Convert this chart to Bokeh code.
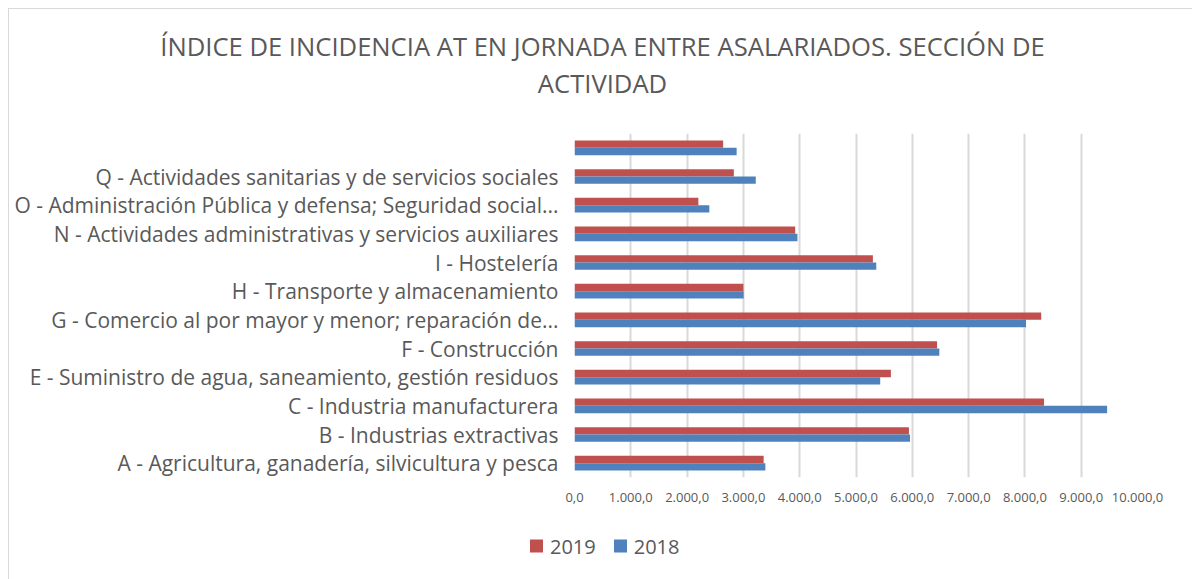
from bokeh.plotting import figure
from bokeh.layouts import column
from bokeh.models import ColumnDataSource, FactorRange, FixedTicker, Range1d, Label, Div
from bokeh.transform import dodge
from bokeh.embed import file_html
from bokeh.resources import INLINE

categories = [
    "A - Agricultura, ganadería, silvicultura y pesca",
    "B - Industrias extractivas",
    "C - Industria manufacturera",
    "E - Suministro de agua, saneamiento, gestión residuos",
    "F - Construcción",
    "G - Comercio al por mayor y menor; reparación de...",
    "H - Transporte y almacenamiento",
    "I - Hostelería",
    "N - Actividades administrativas y servicios auxiliares",
    "O - Administración Pública y defensa; Seguridad social...",
    "Q - Actividades sanitarias y de servicios sociales",
    " ",
]
values_2019 = [3360, 5940, 8340, 5620, 6440, 8290, 3000, 5300, 3920, 2200, 2830, 2640]
values_2018 = [3390, 5960, 9460, 5430, 6480, 8020, 3005, 5360, 3960, 2395, 3220, 2880]
series_names = ["2019", "2018"]
series_colors = ["#C0504D", "#4F81BD"]
tick_values = [0, 1000, 2000, 3000, 4000, 5000, 6000, 7000, 8000, 9000, 10000]
tick_labels = ["0,0", "1.000,0", "2.000,0", "3.000,0", "4.000,0", "5.000,0",
               "6.000,0", "7.000,0", "8.000,0", "9.000,0", "10.000,0"]
title_text = "ÍNDICE DE INCIDENCIA AT EN JORNADA ENTRE ASALARIADOS. SECCIÓN DE\nACTIVIDAD"

FONT = "Open Sans"
GREY = "#595959"

src = ColumnDataSource(dict(cat=categories, v2019=values_2019, v2018=values_2018))

p = figure(
    frame_width=563, frame_height=344,
    y_range=FactorRange(*categories, range_padding=0, factor_padding=0),
    x_range=Range1d(0, 10000),
    output_backend="svg", toolbar_location=None,
    min_border_left=565, min_border_right=55, min_border_top=124, min_border_bottom=50,
)
p.outline_line_color = None
p.background_fill_color = "white"
p.border_fill_color = "white"

p.hbar(y=dodge("cat", 0.128, range=p.y_range), right="v2019", height=0.256,
       left=0, source=src, color=series_colors[0], line_color=None)
p.hbar(y=dodge("cat", -0.128, range=p.y_range), right="v2018", height=0.256,
       left=0, source=src, color=series_colors[1], line_color=None)

title = Label(x=28, y=68.5, x_units="screen", y_units="screen", text=title_text,
              text_align="center", text_baseline="middle", text_line_height=1.05,
              text_font=FONT, text_font_size="25.6px", text_color=GREY)
p.add_layout(title, "above")

p.xaxis.ticker = FixedTicker(ticks=tick_values)
p.xaxis.major_label_overrides = {v: l for v, l in zip(tick_values, tick_labels)}
p.xaxis.axis_line_color = None
p.xaxis.major_tick_line_color = None
p.xaxis.minor_tick_line_color = None
p.xaxis.major_label_text_font = FONT
p.xaxis.major_label_text_font_size = "13px"
p.xaxis.major_label_text_color = GREY
p.xaxis.major_label_standoff = 9

p.yaxis.axis_line_color = None
p.yaxis.major_tick_line_color = None
p.yaxis.minor_tick_line_color = None
p.yaxis.major_label_text_font = FONT
p.yaxis.major_label_text_font_size = "21px"
p.yaxis.major_label_text_color = GREY
p.yaxis.major_label_standoff = 10

p.xgrid.grid_line_color = "#d9d9d9"
p.xgrid.grid_line_width = 2
p.ygrid.grid_line_color = None

# legend strip below the chart (HTML, real text)
parts = []
for i, (name, col) in enumerate(zip(series_names, series_colors)):
    ml = "0" if i == 0 else "18px"
    parts.append(
        f'<span style="display:inline-block;width:13px;height:13px;background:{col};'
        f'margin-left:{ml};margin-right:7px;"></span><span>{name}</span>'
    )
legend_html = (
    f'<div style="position:relative;width:1183px;height:52px;">'
    f'<div style="position:absolute;left:521px;top:19px;transform:translateY(-50%);'
    f'display:flex;align-items:center;white-space:nowrap;font-family:\'{FONT}\';'
    f'font-size:20px;line-height:27px;color:{GREY};">' + "".join(parts) + '</div></div>'
)
legend_div = Div(text=legend_html, width=1183, height=52, margin=0)

layout = column(p, legend_div, spacing=0)
layout.styles = {"border-left": "1px solid #d9d9d9", "border-top": "1px solid #d9d9d9",
                 "margin-left": "8px", "margin-top": "8px"}

open("out.html", "w").write(file_html(layout, INLINE))
